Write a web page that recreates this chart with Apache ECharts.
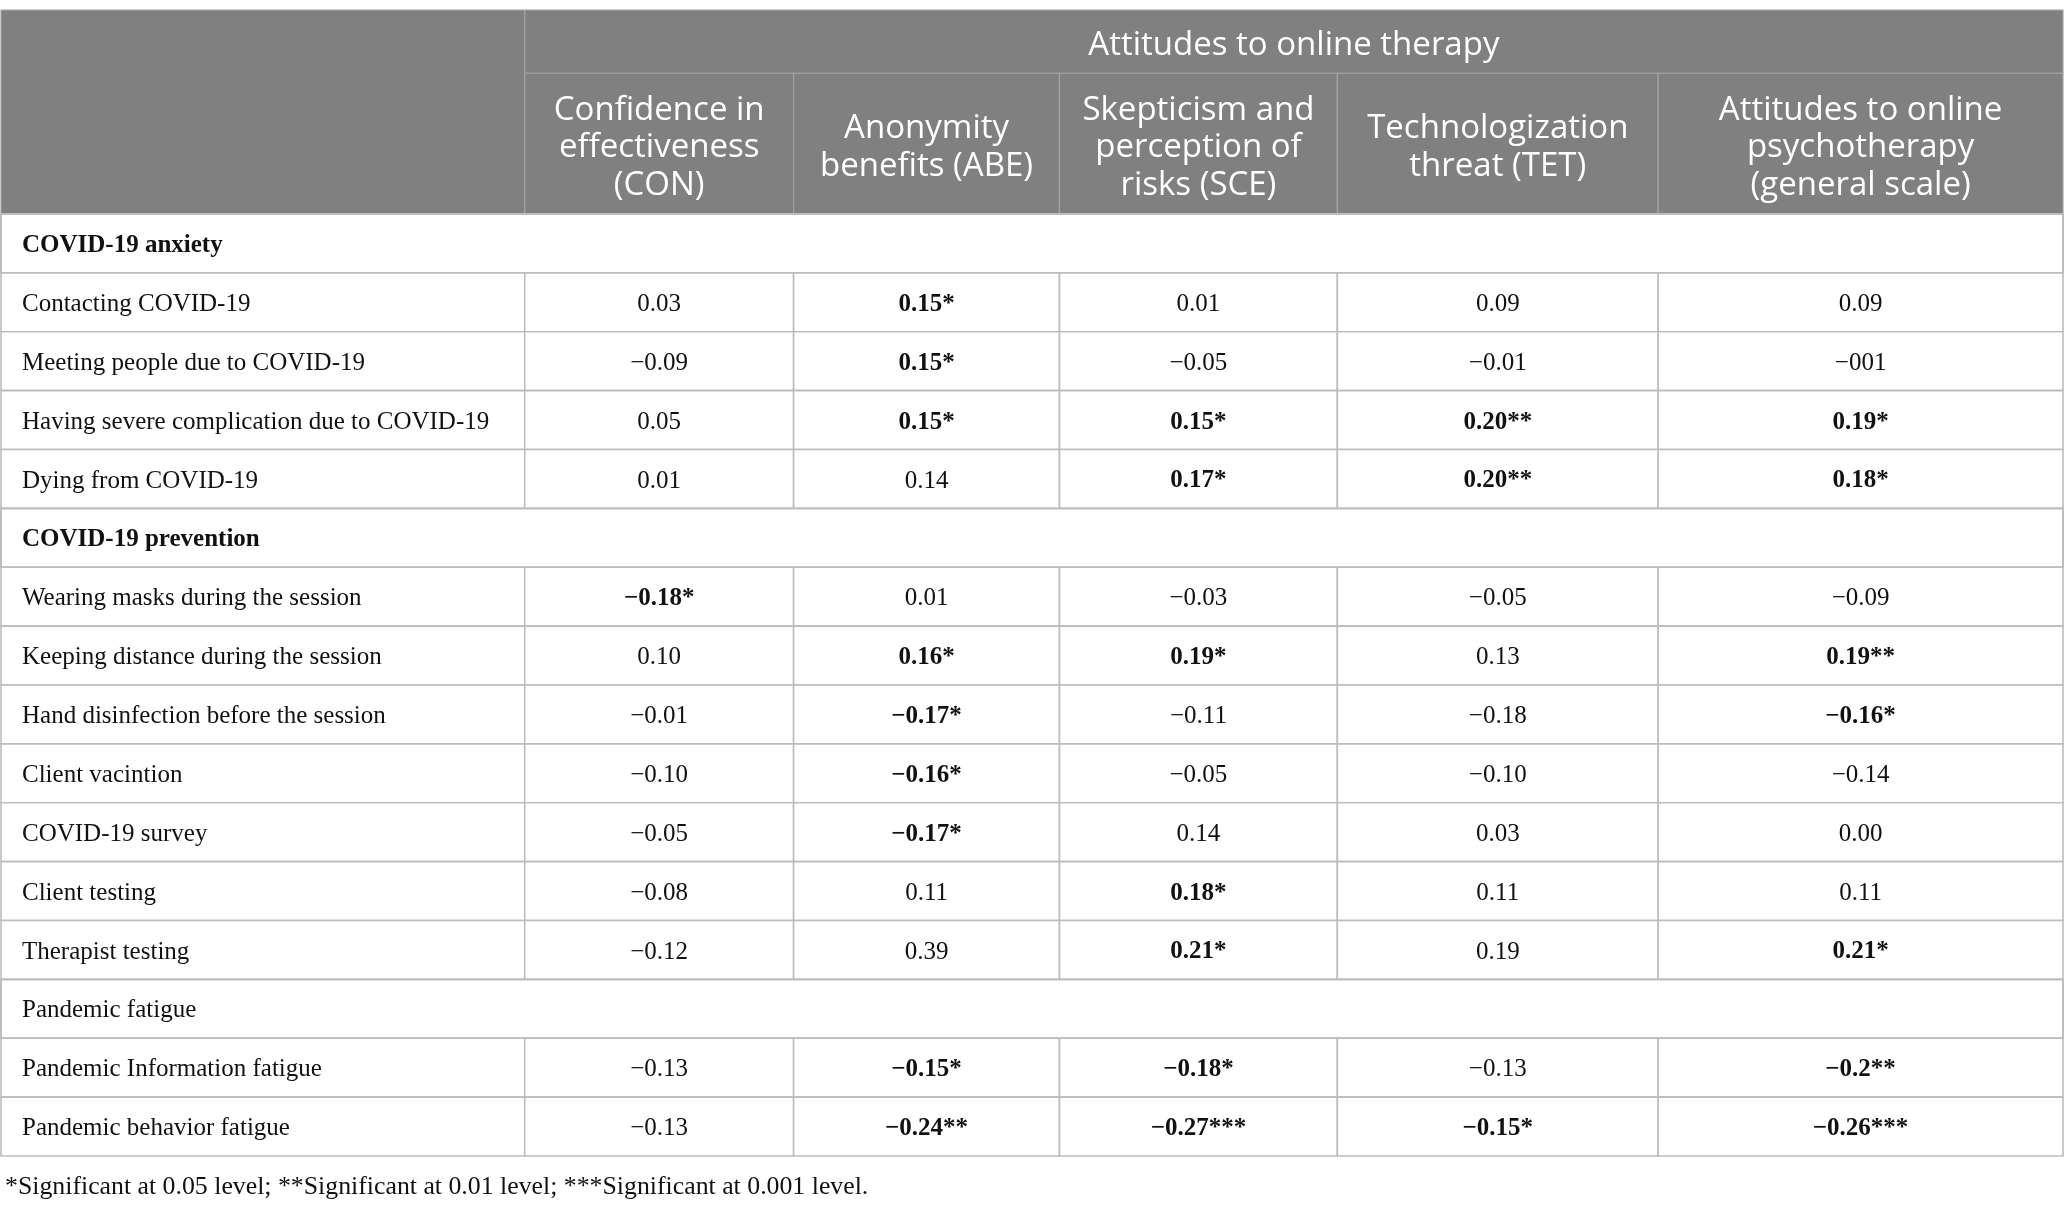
<!DOCTYPE html>
<html>
<head>
<meta charset="utf-8">
<script src="https://cdn.jsdelivr.net/npm/echarts@6/dist/echarts.min.js"></script>
<style>html,body{margin:0;padding:0;background:#fff;}#chart{width:2065px;height:1214px;}</style>
</head>
<body>
<div id="chart"></div>
<script>
// ---------- data ----------
const groupTitle = 'Attitudes to online therapy';
const columnHeaders = [
  'Confidence in\neffectiveness\n(CON)',
  'Anonymity\nbenefits (ABE)',
  'Skepticism and\nperception of\nrisks (SCE)',
  'Technologization\nthreat (TET)',
  'Attitudes to online\npsychotherapy\n(general scale)'
];
const rowLabels = [
  'COVID-19 anxiety',
  'Contacting COVID-19',
  'Meeting people due to COVID-19',
  'Having severe complication due to COVID-19',
  'Dying from COVID-19',
  'COVID-19 prevention',
  'Wearing masks during the session',
  'Keeping distance during the session',
  'Hand disinfection before the session',
  'Client vacintion',
  'COVID-19 survey',
  'Client testing',
  'Therapist testing',
  'Pandemic fatigue',
  'Pandemic Information fatigue',
  'Pandemic behavior fatigue'
];
// 'bold' = bold section heading, 'plain' = plain section heading, 'data' = data row
const rowTypes = ['bold','data','data','data','data','bold','data','data','data','data','data','data','data','plain','data','data'];
const colCON = [null,'0.03','\u22120.09','0.05','0.01',null,'\u22120.18*','0.10','\u22120.01','\u22120.10','\u22120.05','\u22120.08','\u22120.12',null,'\u22120.13','\u22120.13'];
const colABE = [null,'0.15*','0.15*','0.15*','0.14',null,'0.01','0.16*','\u22120.17*','\u22120.16*','\u22120.17*','0.11','0.39',null,'\u22120.15*','\u22120.24**'];
const colSCE = [null,'0.01','\u22120.05','0.15*','0.17*',null,'\u22120.03','0.19*','\u22120.11','\u22120.05','0.14','0.18*','0.21*',null,'\u22120.18*','\u22120.27***'];
const colTET = [null,'0.09','\u22120.01','0.20**','0.20**',null,'\u22120.05','0.13','\u22120.18','\u22120.10','0.03','0.11','0.19',null,'\u22120.13','\u22120.15*'];
const colGEN = [null,'0.09','\u2212001','0.19*','0.18*',null,'\u22120.09','0.19**','\u22120.16*','\u22120.14','0.00','0.11','0.21*',null,'\u22120.2**','\u22120.26***'];
const footnote = '*Significant at 0.05 level; **Significant at 0.01 level; ***Significant at 0.001 level.';

// ---------- layout ----------
const TABLE_W = 2063;
const colEdges = [0, 524, 793, 1059, 1337, 1658, 2063]; // column boundaries in x-axis units
const HEADER_SPLIT = 0.31;  // fraction of header height used by the group row
const SERIF = '"Liberation Serif", "DejaVu Serif", serif';
const SANS = '"Open Sans", "Noto Sans", sans-serif';
const HEADER_BG = '#7f807f';
const HEADER_LINE = '#a3a3a3';
const BODY_LINE = '#bdbdbd';
const TEXT = '#111111';

const valueCols = [colCON, colABE, colSCE, colTET, colGEN];

// body cells: [col, row]; col -1 for a section row spanning all columns
const bodyData = [];
rowLabels.forEach((lab, r) => {
  if (rowTypes[r] === 'data') {
    for (let c = 0; c < 6; c++) bodyData.push([c, r]);
  } else {
    bodyData.push([-1, r]);
  }
});
// header cells: [kind, idx]
const headerData = [[0, 0], [1, 0]];
columnHeaders.forEach((h, i) => headerData.push([2, i]));

function bodyRender(params, api) {
  const c = api.value(0), r = api.value(1);
  const yc = api.coord([0, r])[1];
  const h = api.size([0, 1])[1];
  const y0 = yc - h / 2;
  const children = [];
  if (c < 0) {
    const xa = api.coord([0, r])[0], xb = api.coord([TABLE_W, r])[0];
    children.push({type: 'rect', shape: {x: xa, y: y0, width: xb - xa, height: h},
      style: {fill: '#fff', stroke: BODY_LINE, lineWidth: 2}});
    children.push({type: 'text', style: {text: rowLabels[r], x: xa + 21, y: yc + 2,
      align: 'left', verticalAlign: 'middle', fill: TEXT,
      font: (rowTypes[r] === 'bold' ? 'bold ' : '') + '25px ' + SERIF}});
    return {type: 'group', children};
  }
  const xa = api.coord([colEdges[c], r])[0], xb = api.coord([colEdges[c + 1], r])[0];
  children.push({type: 'rect', shape: {x: xa, y: y0, width: xb - xa, height: h},
    style: {fill: '#fff', stroke: BODY_LINE, lineWidth: 1.6}});
  if (c === 0) {
    children.push({type: 'text', style: {text: rowLabels[r], x: xa + 21, y: yc + 2,
      align: 'left', verticalAlign: 'middle', fill: TEXT, font: '25px ' + SERIF}});
  } else {
    const t = valueCols[c - 1][r];
    const bold = t.indexOf('*') >= 0;
    children.push({type: 'text', style: {text: t, x: (xa + xb) / 2, y: yc + 2,
      align: 'center', verticalAlign: 'middle', fill: TEXT,
      font: (bold ? 'bold ' : '') + '25px ' + SERIF}});
  }
  return {type: 'group', children};
}

function headerRender(params, api) {
  const kind = api.value(0), i = api.value(1);
  let x0, x1, ya, yb, text;
  if (kind === 0) { x0 = 0; x1 = colEdges[1]; ya = 0; yb = 1; text = ''; }
  else if (kind === 1) { x0 = colEdges[1]; x1 = TABLE_W; ya = 0; yb = HEADER_SPLIT; text = groupTitle; }
  else { x0 = colEdges[i + 1]; x1 = colEdges[i + 2]; ya = HEADER_SPLIT; yb = 1; text = columnHeaders[i]; }
  const p0 = api.coord([x0, ya]), p1 = api.coord([x1, yb]);
  const children = [{type: 'rect', shape: {x: p0[0], y: p0[1], width: p1[0] - p0[0], height: p1[1] - p0[1]},
    style: {fill: HEADER_BG, stroke: HEADER_LINE, lineWidth: 1.2}}];
  if (text) {
    children.push({type: 'text', style: {text, x: (p0[0] + p1[0]) / 2, y: (p0[1] + p1[1]) / 2 + 4,
      align: 'center', verticalAlign: 'middle', fill: '#ffffff',
      fontFamily: SANS, fontSize: 33, lineHeight: 37.5}});
  }
  return {type: 'group', children};
}

const chart = echarts.init(document.getElementById('chart'), null, {renderer: 'canvas'});
chart.setOption({
  animation: false,
  backgroundColor: '#ffffff',
  title: {text: footnote, left: 0, top: 1169,
    textStyle: {fontFamily: SERIF, fontSize: 25.8, fontWeight: 'normal', color: TEXT}},
  grid: [
    {left: 1, top: 10, width: TABLE_W - 1, height: 204},
    {left: 1, top: 214, width: TABLE_W - 1, height: 942}
  ],
  xAxis: [
    {type: 'value', gridIndex: 0, min: 0, max: TABLE_W, show: false},
    {type: 'value', gridIndex: 1, min: 0, max: TABLE_W, show: false}
  ],
  yAxis: [
    {type: 'value', gridIndex: 0, min: 0, max: 1, inverse: true, show: false},
    {type: 'category', gridIndex: 1, data: rowLabels, inverse: true, show: false}
  ],
  series: [
    {type: 'custom', xAxisIndex: 0, yAxisIndex: 0, data: headerData, renderItem: headerRender, silent: true},
    {type: 'custom', xAxisIndex: 1, yAxisIndex: 1, data: bodyData, renderItem: bodyRender, silent: true}
  ]
});
</script>
</body>
</html>
